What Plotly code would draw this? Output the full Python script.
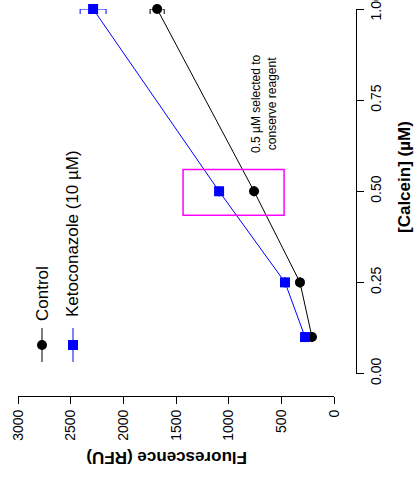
import plotly.graph_objects as go

# ---- data ----
calcein_um = [0.1, 0.25, 0.5, 1.0]
control_rfu = [209, 323, 759, 1679]
control_err = [0, 0, 0, 67]
keto_rfu = [275, 465, 1091, 2287]
keto_err = [0, 0, 0, 123]

rfu_ticks = [0, 500, 1000, 1500, 2000, 2500, 3000]
calcein_ticks = [0.0, 0.25, 0.5, 0.75, 1.0]
calcein_ticklabels = ["0.00", "0.25", "0.50", "0.75", "1.00"]

# highlighted region (selected concentration)
highlight_rfu = [474, 1433]
highlight_calcein = [0.434, 0.560]

series_names = ["Control", "Ketoconazole (10 µM)"]
note_text = "0.5 µM selected to<br>conserve reagent"

FONT = "Liberation Sans, Arial, sans-serif"

fig = go.Figure()
fig.add_trace(go.Scatter(
    x=control_rfu, y=calcein_um, mode="lines+markers", name=series_names[0],
    line=dict(color="black", width=1),
    marker=dict(symbol="circle", size=10, color="black"),
    error_x=dict(type="data", array=control_err, visible=True, color="black",
                 thickness=1, width=5),
    cliponaxis=False, showlegend=False))
fig.add_trace(go.Scatter(
    x=keto_rfu, y=calcein_um, mode="lines+markers", name=series_names[1],
    line=dict(color="#0000FF", width=1),
    marker=dict(symbol="square", size=10, color="#0000FF"),
    error_x=dict(type="data", array=keto_err, visible=True, color="#0000FF",
                 thickness=1, width=5),
    cliponaxis=False, showlegend=False))

# highlight rectangle
fig.add_shape(type="rect", xref="x", yref="y",
              x0=highlight_rfu[0], x1=highlight_rfu[1],
              y0=highlight_calcein[0], y1=highlight_calcein[1],
              line=dict(color="#FF00FF", width=1.5), fillcolor="rgba(0,0,0,0)")

# custom rotated legend
W, H = 338.0, 387.0
def px2paper(px, py):
    return (px - 18) / W, (396 - py) / H

leg = [(42, "black", "circle", series_names[0], 294),
       (73, "#0000FF", "square", series_names[1], 234)]
for lx, col, sym, name, ty in leg:
    ax, ay = px2paper(lx, 345)
    fig.add_shape(type="line", xref="paper", yref="paper",
                  xsizemode="pixel", ysizemode="pixel", xanchor=ax, yanchor=ay,
                  x0=0, x1=0, y0=-17, y1=17, line=dict(color=col, width=1))
    fig.add_shape(type="circle" if sym == "circle" else "rect",
                  xref="paper", yref="paper",
                  xsizemode="pixel", ysizemode="pixel", xanchor=ax, yanchor=ay,
                  x0=-5, x1=5, y0=-5, y1=5,
                  line=dict(color=col, width=0), fillcolor=col)
    tx, tyy = px2paper(lx, ty)
    fig.add_annotation(x=tx, y=tyy, xref="paper", yref="paper", text=name,
                       textangle=-90, showarrow=False, xanchor="center",
                       yanchor="middle", font=dict(family=FONT, size=17, color="black"))

# note
nx, ny = px2paper(264, 104)
fig.add_annotation(x=nx, y=ny, xref="paper", yref="paper", text=note_text,
                   textangle=-90, showarrow=False, xanchor="center", yanchor="middle",
                   align="center", font=dict(family=FONT, size=12, color="black"))

# axis titles
t1x, t1y = px2paper(167, 457)
fig.add_annotation(x=t1x, y=t1y, xref="paper", yref="paper",
                   text="<b>Fluorescence (RFU)</b>", textangle=180, showarrow=False,
                   xanchor="center", yanchor="middle",
                   font=dict(family=FONT, size=17, color="black"))
t2x, t2y = px2paper(404, 177)
fig.add_annotation(x=t2x, y=t2y, xref="paper", yref="paper",
                   text="<b>[Calcein] (µM)</b>", textangle=-90, showarrow=False,
                   xanchor="center", yanchor="middle",
                   font=dict(family=FONT, size=17, color="black"))

fig.update_layout(
    width=414, height=482,
    margin=dict(l=18, r=58, t=9, b=86, autoexpand=False),
    paper_bgcolor="white", plot_bgcolor="white",
    font=dict(family=FONT, size=14, color="black"),
    xaxis=dict(range=[3000, 0], domain=[0, 316 / W], anchor="free", position=0,
               tickvals=rfu_ticks, ticktext=[str(v) for v in rfu_ticks],
               tickangle=-90, ticks="outside", ticklen=7, tickwidth=1,
               tickcolor="black", showline=True, linecolor="black", linewidth=1,
               showgrid=False, zeroline=False, tickfont=dict(size=14),
               ticklabeloverflow="allow", automargin=False),
    yaxis=dict(range=[0, 1], domain=[(396 - 373.5) / H, 1], anchor="free",
               position=1, side="right",
               tickvals=calcein_ticks, ticktext=calcein_ticklabels,
               tickangle=-90, ticks="outside", ticklen=7, tickwidth=1,
               tickcolor="black", showline=True, linecolor="black", linewidth=1,
               showgrid=False, zeroline=False, tickfont=dict(size=14),
               ticklabeloverflow="allow", automargin=False),
)

# remove the default page margin so the figure sits at the window's top-left corner
fig.write_html("out.html", config={"displayModeBar": False},
               post_script="document.body.style.margin='0';")
